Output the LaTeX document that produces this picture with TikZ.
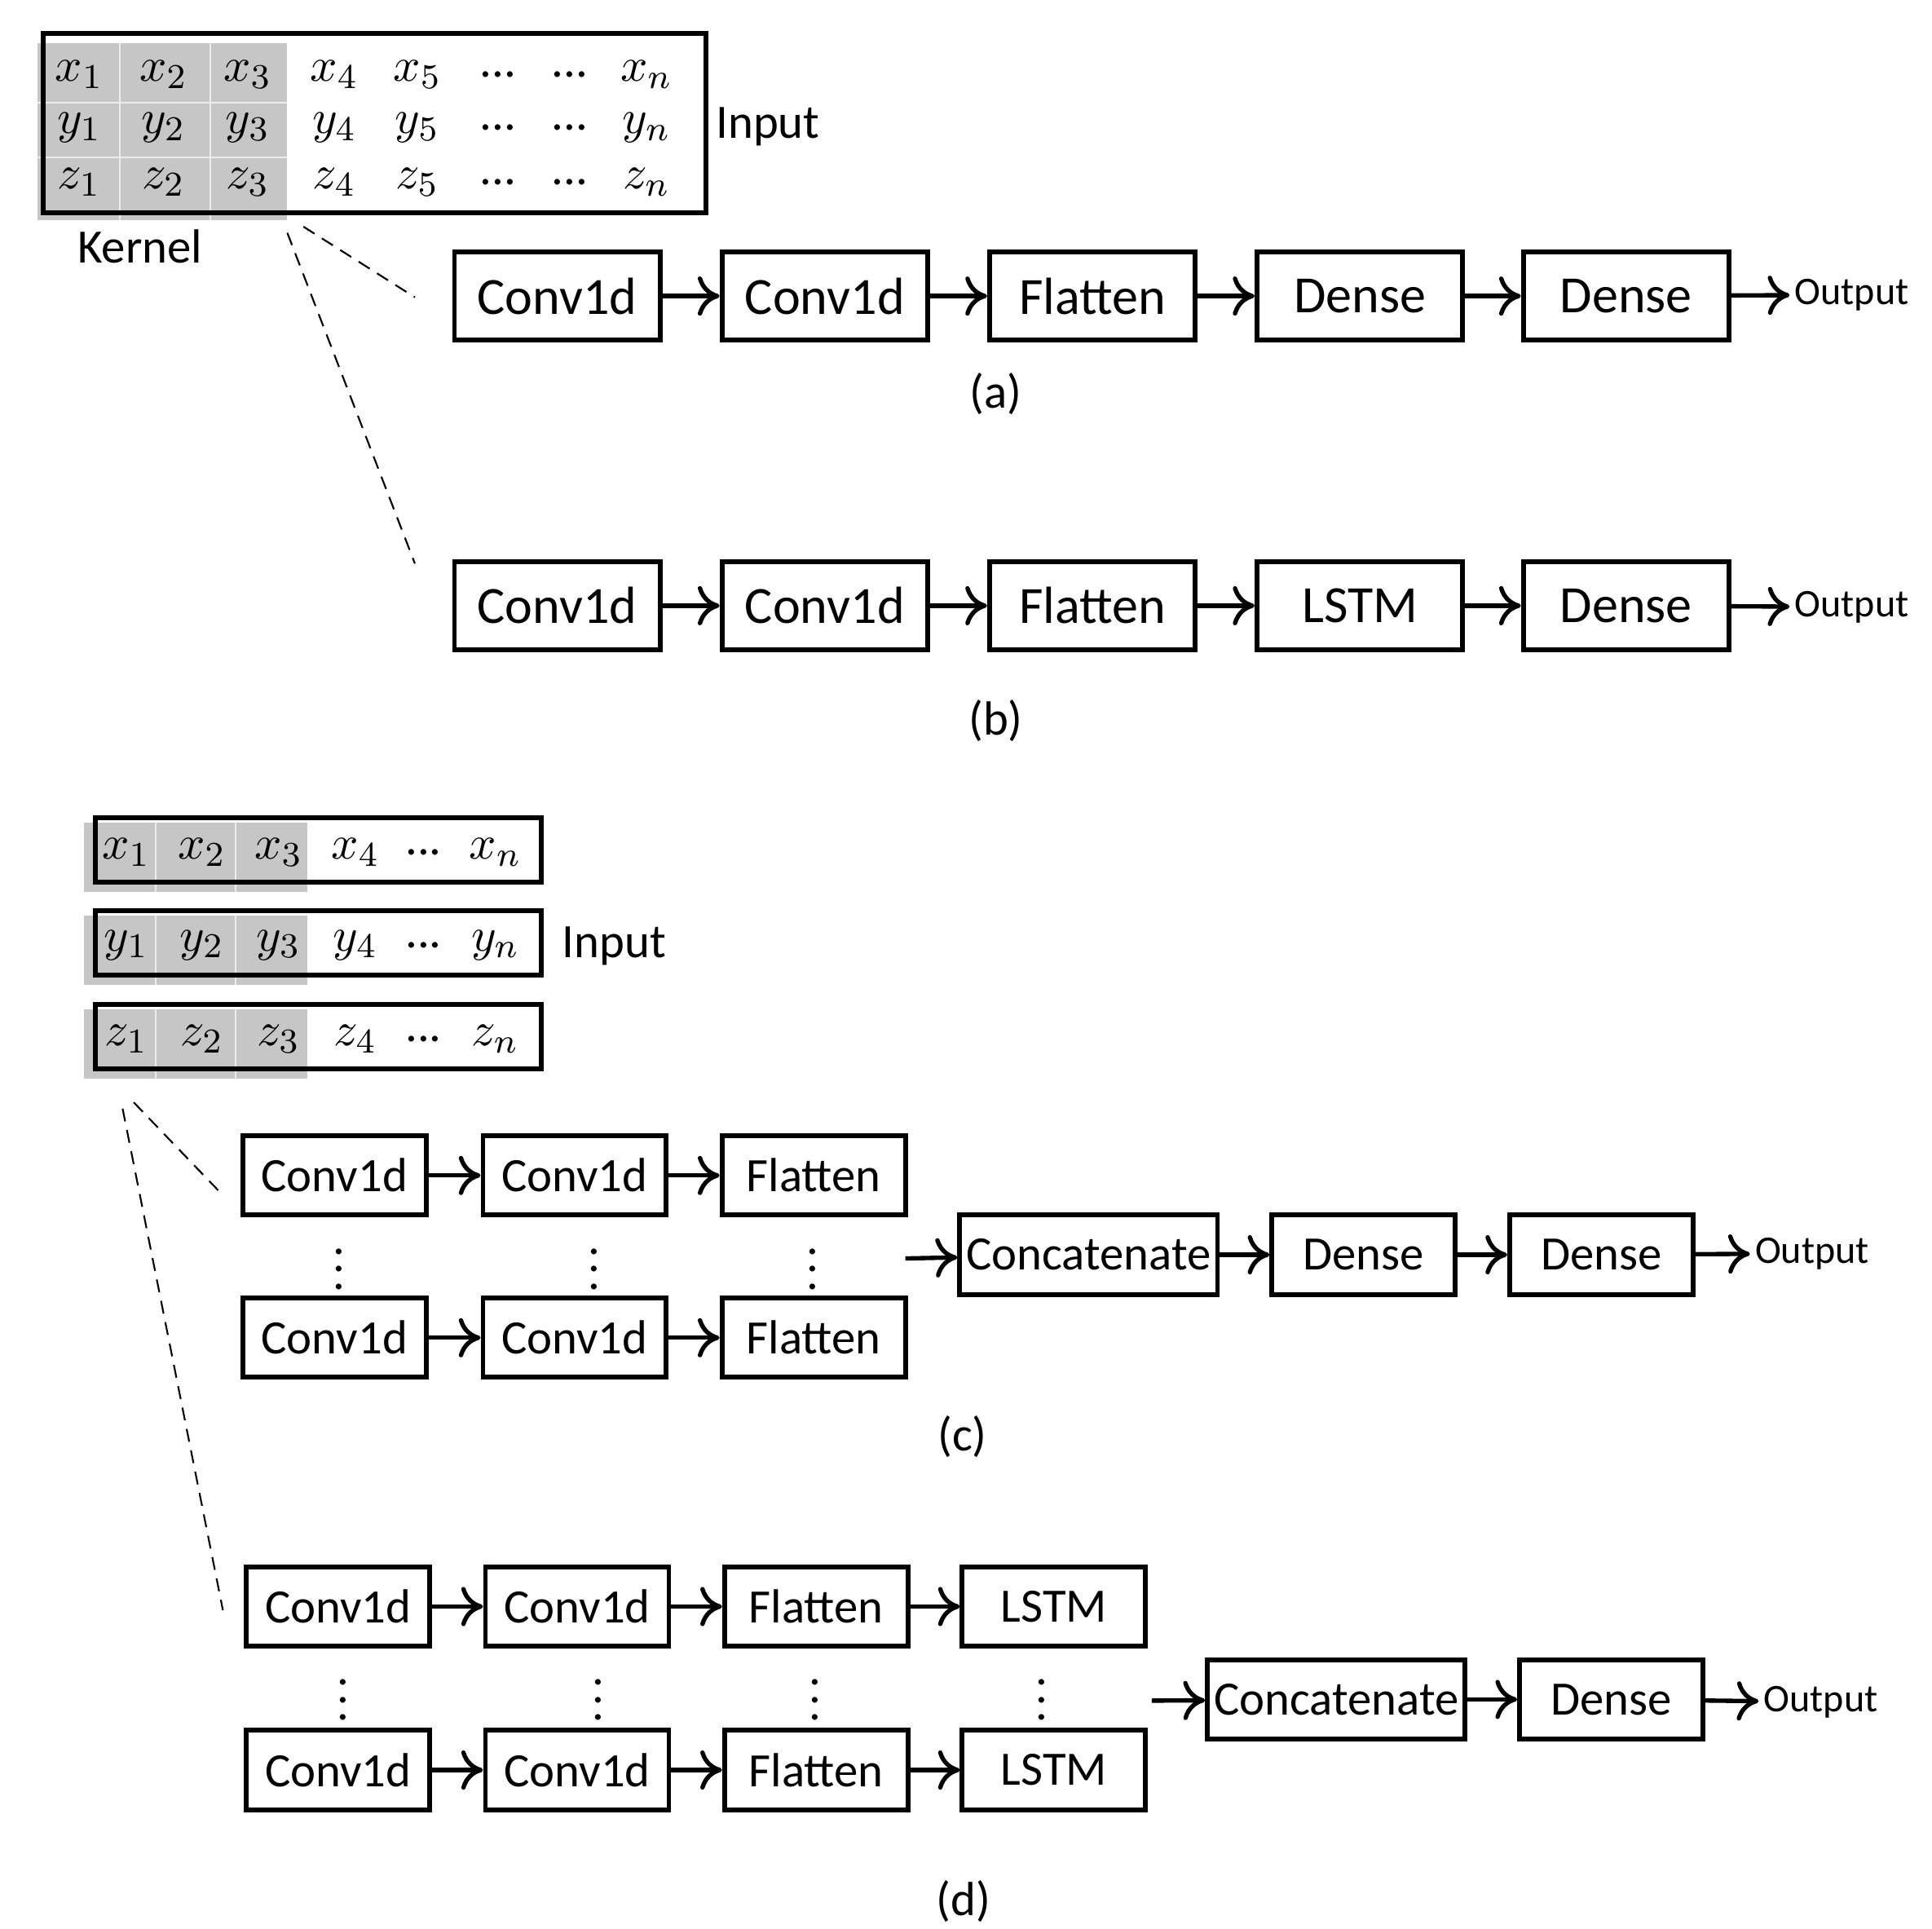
\documentclass[tikz,border=0pt]{standalone}
\usepackage{fontspec}
\setmainfont{Carlito}
\usetikzlibrary{arrows.meta}
\begin{document}
\begin{tikzpicture}[x=0.01cm,y=-0.01cm,
  box/.style={draw, line width=1.1pt, minimum width=1.66cm, minimum height=0.71cm, inner sep=0pt, font=\fontsize{12}{14}\selectfont},
  sbox/.style={draw, line width=1.1pt, minimum width=1.48cm, minimum height=0.64cm, inner sep=0pt, font=\fontsize{11}{13}\selectfont},
  cbox/.style={sbox, minimum width=2.08cm},
  arr/.style={-{To[length=5pt,width=9pt]}, line width=1pt},
  guide/.style={densely dashed, line width=0.4pt},
  cell/.style={font=\fontsize{11}{13}\selectfont},
  lab/.style={font=\fontsize{11}{13}\selectfont},
  outlab/.style={font=\fontsize{9}{11}\selectfont, inner sep=1pt, anchor=west}
]
\useasboundingbox (0,0) rectangle (1560,1557);
% ---------- top input ----------
\fill[gray!45] (30,35) rectangle (232,178);
\draw[white!85!gray] (97,35) -- (97,178) (170,35) -- (170,178) (30,83) -- (232,83) (30,127) -- (232,127);
\draw[line width=1.1pt] (35,27) rectangle (570,172);
\foreach \l/\x in {1/64,2/132,3/200,4/270,5/337}{
  \node[cell] at (\x,60) {$x_{\l}$};
  \node[cell] at (\x,103) {$y_{\l}$};
  \node[cell] at (\x,147) {$z_{\l}$};}
\foreach \x in {402,460}{\foreach \y in {60,103,147}{\node[cell] at (\x,\y) {...};}}
\node[cell] at (522,60) {$x_n$};
\node[cell] at (522,103) {$y_n$};
\node[cell] at (522,147) {$z_n$};
\node[lab] (inA) at (620,102) {Input};
\node[lab] (kern) at (113,199) {Kernel};
\coordinate (k1) at (245,183);
\coordinate (k2) at (232,188);
\coordinate (ka) at (335,240);
\coordinate (kb) at (335,455);
\draw[guide] (k1) -- (ka);
\draw[guide] (k2) -- (kb);
% ---------- (a) ----------
\node[box] (a1) at (450,239) {Conv1d};
\node[box] (a2) at (666,239) {Conv1d};
\node[box] (a3) at (882,239) {Flatten};
\node[box] (a4) at (1098,239) {Dense};
\node[box] (a5) at (1313,239) {Dense};
\node[outlab] (ao) at (1445,238) {Output};
\foreach \p/\q in {a1/a2,a2/a3,a3/a4,a4/a5,a5/ao}{\draw[arr] (\p) -- (\q);}
\node[lab] at (804,318) {(a)};
% ---------- (b) ----------
\node[box] (b1) at (450,489) {Conv1d};
\node[box] (b2) at (666,489) {Conv1d};
\node[box] (b3) at (882,489) {Flatten};
\node[box] (b4) at (1098,489) {LSTM};
\node[box] (b5) at (1313,489) {Dense};
\node[outlab] (bo) at (1445,490) {Output};
\foreach \p/\q in {b1/b2,b2/b3,b3/b4,b4/b5,b5/bo}{\draw[arr] (\p) -- (\q);}
\node[lab] at (804,582) {(b)};
% ---------- separate inputs ----------
\foreach \v/\y in {x/686,y/761,z/837}{
  \fill[gray!45] (68,\y-22) rectangle (248,\y+34);
  \draw[white!85!gray] (126,\y-22) -- (126,\y+34) (190,\y-22) -- (190,\y+34);
  \draw[line width=1.1pt] (77,\y-26) rectangle (437,\y+26);
  \node[cell] at (102,\y+2) {$\v_1$};
  \node[cell] at (163,\y+2) {$\v_2$};
  \node[cell] at (225,\y+2) {$\v_3$};
  \node[cell] at (287,\y+2) {$\v_4$};
  \node[cell] at (342,\y+2) {...};
  \node[cell] at (400,\y+2) {$\v_n$};}
\node[lab] (inC) at (496,764) {Input};
\coordinate (m1) at (108,890);
\coordinate (m2) at (99,895);
\coordinate (mc) at (180,965);
\coordinate (md) at (180,1300);
\draw[guide] (m1) -- (mc);
\draw[guide] (m2) -- (md);
% ---------- (c) ----------
\node[sbox] (c11) at (270,949) {Conv1d};
\node[sbox] (c12) at (464,949) {Conv1d};
\node[sbox] (c13) at (657,949) {Flatten};
\node[sbox] (c21) at (270,1080) {Conv1d};
\node[sbox] (c22) at (464,1080) {Conv1d};
\node[sbox] (c23) at (657,1080) {Flatten};
\foreach \x in {274,480,656}{\node[cell] at (\x,1014) {$\vdots$};}
\coordinate (cs) at (731,1016);
\node[cbox] (cc) at (879,1013) {Concatenate};
\node[sbox] (cd1) at (1101,1013) {Dense};
\node[sbox] (cd2) at (1293,1013) {Dense};
\node[outlab] (co) at (1413,1012) {Output};
\foreach \p/\q in {c11/c12,c12/c13,c21/c22,c22/c23,cs/cc,cc/cd1,cd1/cd2,cd2/co}{\draw[arr] (\p) -- (\q);}
\node[lab] at (777,1160) {(c)};
% ---------- (d) ----------
\node[sbox] (d11) at (273,1297) {Conv1d};
\node[sbox] (d12) at (466,1297) {Conv1d};
\node[sbox] (d13) at (659,1297) {Flatten};
\node[sbox] (d14) at (851,1297) {LSTM};
\node[sbox] (d21) at (273,1429) {Conv1d};
\node[sbox] (d22) at (466,1429) {Conv1d};
\node[sbox] (d23) at (659,1429) {Flatten};
\node[sbox] (d24) at (851,1429) {LSTM};
\foreach \x in {277,483,658,841}{\node[cell] at (\x,1362) {$\vdots$};}
\coordinate (ds) at (930,1373);
\node[cbox] (dc) at (1079,1372) {Concatenate};
\node[sbox] (dd) at (1301,1372) {Dense};
\node[outlab] (dout) at (1420,1374) {Output};
\foreach \p/\q in {d11/d12,d12/d13,d13/d14,d21/d22,d22/d23,d23/d24,ds/dc,dc/dd,dd/dout}{\draw[arr] (\p) -- (\q);}
\node[lab] at (778,1535) {(d)};
\end{tikzpicture}
\end{document}
